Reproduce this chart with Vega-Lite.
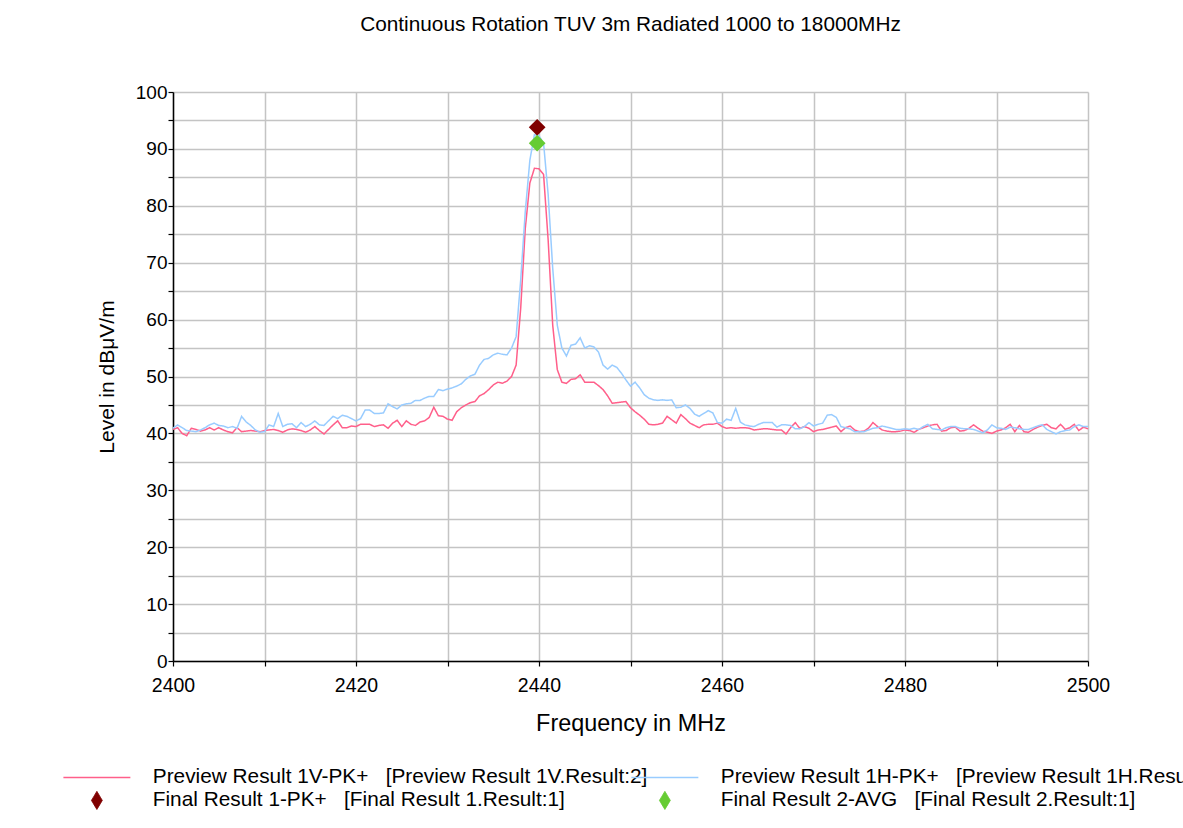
{
  "$schema": "https://vega.github.io/schema/vega-lite/v6.json",
  "width": 915,
  "height": 569,
  "autosize": {"type": "none"},
  "padding": {"left": 173, "top": 92, "right": 95, "bottom": 167},
  "background": "white",
  "title": {
    "text": "Continuous Rotation TUV 3m Radiated 1000 to 18000MHz",
    "font": "Liberation Sans",
    "fontSize": 20.8,
    "fontWeight": "normal",
    "color": "black",
    "anchor": "middle",
    "frame": "group",
    "offset": 47
  },
  "config": {
    "view": {"stroke": null},
    "font": "Liberation Sans",
    "axis": {
      "labelFont": "Liberation Sans",
      "titleFont": "Liberation Sans",
      "labelColor": "black",
      "titleColor": "black",
      "titleFontWeight": "normal",
      "domainColor": "black",
      "domainWidth": 1.5,
      "tickColor": "black",
      "tickWidth": 1.2,
      "gridColor": "#c4c4c4",
      "gridWidth": 1.5,
      "gridOpacity": 1
    },
    "legend": {
      "orient": "none",
      "title": null,
      "direction": "vertical",
      "padding": 0,
      "rowPadding": 1,
      "symbolSize": 324,
      "symbolStrokeWidth": 1.5,
      "labelOffset": 70,
      "labelLimit": 0,
      "labelFont": "Liberation Sans",
      "labelFontSize": 20.8,
      "labelColor": "black"
    }
  },
  "datasets": {
    "prev": [
      {"f":2400,"V":40.7,"H":40.9},{"f":2400.5,"V":41.0,"H":41.5},{"f":2401,"V":40.0,"H":41.0},{"f":2401.5,"V":39.6,"H":40.5},
      {"f":2402,"V":40.9,"H":40.4},{"f":2402.5,"V":40.7,"H":40.3},{"f":2403,"V":40.4,"H":40.6},{"f":2403.5,"V":40.6,"H":41.0},
      {"f":2404,"V":41.0,"H":41.5},{"f":2404.5,"V":40.6,"H":41.8},{"f":2405,"V":41.0,"H":41.4},{"f":2405.5,"V":40.6,"H":41.3},
      {"f":2406,"V":40.3,"H":41.0},{"f":2406.5,"V":40.1,"H":41.2},{"f":2407,"V":41.0,"H":40.9},{"f":2407.5,"V":40.3,"H":43.0},
      {"f":2408,"V":40.4,"H":42.0},{"f":2408.5,"V":40.5,"H":41.4},{"f":2409,"V":40.4,"H":40.6},{"f":2409.5,"V":40.3,"H":40.2},
      {"f":2410,"V":40.5,"H":40.3},{"f":2410.5,"V":40.6,"H":41.5},{"f":2411,"V":40.7,"H":41.2},{"f":2411.5,"V":40.5,"H":43.5},
      {"f":2412,"V":40.2,"H":41.2},{"f":2412.5,"V":40.6,"H":41.6},{"f":2413,"V":40.8,"H":41.7},{"f":2413.5,"V":40.7,"H":41.0},
      {"f":2414,"V":40.5,"H":41.9},{"f":2414.5,"V":40.2,"H":41.2},{"f":2415,"V":40.6,"H":41.6},{"f":2415.5,"V":41.2,"H":42.2},
      {"f":2416,"V":40.5,"H":41.5},{"f":2416.5,"V":39.9,"H":41.4},{"f":2417,"V":40.7,"H":42.2},{"f":2417.5,"V":41.5,"H":43.0},
      {"f":2418,"V":42.2,"H":42.6},{"f":2418.5,"V":41.0,"H":43.2},{"f":2419,"V":41.0,"H":43.0},{"f":2419.5,"V":41.3,"H":42.6},
      {"f":2420,"V":41.2,"H":42.2},{"f":2420.5,"V":41.6,"H":42.6},{"f":2421,"V":41.6,"H":44.1},{"f":2421.5,"V":41.6,"H":44.1},
      {"f":2422,"V":41.2,"H":43.5},{"f":2422.5,"V":41.4,"H":43.5},{"f":2423,"V":41.5,"H":43.6},{"f":2423.5,"V":40.9,"H":45.2},
      {"f":2424,"V":41.8,"H":44.7},{"f":2424.5,"V":42.3,"H":44.3},{"f":2425,"V":41.2,"H":45.0},{"f":2425.5,"V":42.2,"H":45.2},
      {"f":2426,"V":41.6,"H":45.3},{"f":2426.5,"V":41.4,"H":45.8},{"f":2427,"V":42.0,"H":45.8},{"f":2427.5,"V":42.2,"H":46.2},
      {"f":2428,"V":42.8,"H":46.5},{"f":2428.5,"V":44.6,"H":46.5},{"f":2429,"V":43.1,"H":47.7},{"f":2429.5,"V":43.0,"H":47.5},
      {"f":2430,"V":42.5,"H":47.8},{"f":2430.5,"V":42.3,"H":48.0},{"f":2431,"V":43.8,"H":48.3},{"f":2431.5,"V":44.5,"H":48.7},
      {"f":2432,"V":45.0,"H":49.5},{"f":2432.5,"V":45.4,"H":50.1},{"f":2433,"V":45.6,"H":50.4},{"f":2433.5,"V":46.6,"H":52.0},
      {"f":2434,"V":47.0,"H":53.0},{"f":2434.5,"V":47.7,"H":53.2},{"f":2435,"V":48.5,"H":53.8},{"f":2435.5,"V":49.0,"H":54.1},
      {"f":2436,"V":48.8,"H":53.9},{"f":2436.5,"V":49.2,"H":53.8},{"f":2437,"V":50.0,"H":55.0},{"f":2437.5,"V":52.0,"H":57.0},
      {"f":2438,"V":62.0,"H":67.0},{"f":2438.5,"V":76.0,"H":79.0},{"f":2439,"V":84.0,"H":88.0},{"f":2439.5,"V":86.6,"H":92.5},
      {"f":2440,"V":86.5,"H":92.3},{"f":2440.5,"V":85.5,"H":91.0},{"f":2441,"V":74.0,"H":82.0},{"f":2441.5,"V":59.0,"H":69.0},
      {"f":2442,"V":51.2,"H":59.0},{"f":2442.5,"V":49.0,"H":55.0},{"f":2443,"V":48.8,"H":53.6},{"f":2443.5,"V":49.5,"H":55.5},
      {"f":2444,"V":49.6,"H":55.7},{"f":2444.5,"V":50.3,"H":56.8},{"f":2445,"V":49.0,"H":55.0},{"f":2445.5,"V":49.0,"H":55.4},
      {"f":2446,"V":49.0,"H":55.2},{"f":2446.5,"V":48.4,"H":54.3},{"f":2447,"V":47.7,"H":52.0},{"f":2447.5,"V":46.6,"H":51.3},
      {"f":2448,"V":45.3,"H":52.0},{"f":2448.5,"V":45.4,"H":51.6},{"f":2449,"V":45.5,"H":50.6},{"f":2449.5,"V":45.6,"H":49.4},
      {"f":2450,"V":44.5,"H":48.3},{"f":2450.5,"V":43.8,"H":49.0},{"f":2451,"V":43.2,"H":48.0},{"f":2451.5,"V":42.5,"H":46.8},
      {"f":2452,"V":41.6,"H":46.2},{"f":2452.5,"V":41.5,"H":45.9},{"f":2453,"V":41.6,"H":45.8},{"f":2453.5,"V":41.8,"H":45.9},
      {"f":2454,"V":43.0,"H":45.8},{"f":2454.5,"V":42.4,"H":45.9},{"f":2455,"V":41.8,"H":44.5},{"f":2455.5,"V":43.3,"H":44.6},
      {"f":2456,"V":42.6,"H":45.0},{"f":2456.5,"V":41.8,"H":44.4},{"f":2457,"V":41.4,"H":43.4},{"f":2457.5,"V":41.0,"H":43.0},
      {"f":2458,"V":41.5,"H":43.5},{"f":2458.5,"V":41.6,"H":44.0},{"f":2459,"V":41.6,"H":43.6},{"f":2459.5,"V":41.8,"H":41.9},
      {"f":2460,"V":41.2,"H":41.8},{"f":2460.5,"V":40.9,"H":42.5},{"f":2461,"V":41.0,"H":42.3},{"f":2461.5,"V":40.9,"H":44.4},
      {"f":2462,"V":41.0,"H":42.0},{"f":2462.5,"V":41.0,"H":41.5},{"f":2463,"V":40.9,"H":41.3},{"f":2463.5,"V":40.6,"H":41.2},
      {"f":2464,"V":40.7,"H":41.6},{"f":2464.5,"V":40.8,"H":41.9},{"f":2465,"V":40.8,"H":41.9},{"f":2465.5,"V":40.7,"H":41.9},
      {"f":2466,"V":40.6,"H":41.1},{"f":2466.5,"V":40.6,"H":41.5},{"f":2467,"V":39.9,"H":41.5},{"f":2467.5,"V":41.0,"H":41.4},
      {"f":2468,"V":41.9,"H":40.8},{"f":2468.5,"V":40.9,"H":40.8},{"f":2469,"V":41.2,"H":41.2},{"f":2469.5,"V":40.9,"H":41.9},
      {"f":2470,"V":40.3,"H":41.3},{"f":2470.5,"V":40.6,"H":41.6},{"f":2471,"V":40.7,"H":41.8},{"f":2471.5,"V":40.9,"H":43.2},
      {"f":2472,"V":41.1,"H":43.3},{"f":2472.5,"V":41.3,"H":42.8},{"f":2473,"V":40.3,"H":41.2},{"f":2473.5,"V":41.0,"H":41.0},
      {"f":2474,"V":41.3,"H":40.8},{"f":2474.5,"V":40.6,"H":40.3},{"f":2475,"V":40.3,"H":40.3},{"f":2475.5,"V":40.4,"H":40.3},
      {"f":2476,"V":40.9,"H":40.6},{"f":2476.5,"V":41.9,"H":40.9},{"f":2477,"V":41.2,"H":41.0},{"f":2477.5,"V":40.6,"H":41.3},
      {"f":2478,"V":40.4,"H":41.1},{"f":2478.5,"V":40.3,"H":40.9},{"f":2479,"V":40.3,"H":40.7},{"f":2479.5,"V":40.4,"H":40.7},
      {"f":2480,"V":40.6,"H":40.8},{"f":2480.5,"V":40.5,"H":40.7},{"f":2481,"V":40.2,"H":40.9},{"f":2481.5,"V":40.7,"H":40.7},
      {"f":2482,"V":41.0,"H":41.2},{"f":2482.5,"V":41.3,"H":41.6},{"f":2483,"V":41.5,"H":40.8},{"f":2483.5,"V":41.6,"H":40.7},
      {"f":2484,"V":40.4,"H":40.6},{"f":2484.5,"V":40.5,"H":41.0},{"f":2485,"V":41.0,"H":41.2},{"f":2485.5,"V":41.1,"H":41.2},
      {"f":2486,"V":40.4,"H":40.9},{"f":2486.5,"V":40.5,"H":40.8},{"f":2487,"V":40.9,"H":40.8},{"f":2487.5,"V":41.5,"H":40.7},
      {"f":2488,"V":40.9,"H":40.4},{"f":2488.5,"V":40.4,"H":40.1},{"f":2489,"V":40.2,"H":40.6},{"f":2489.5,"V":40.0,"H":41.5},
      {"f":2490,"V":40.4,"H":41.0},{"f":2490.5,"V":40.6,"H":40.9},{"f":2491,"V":41.0,"H":40.7},{"f":2491.5,"V":41.6,"H":41.1},
      {"f":2492,"V":40.3,"H":41.0},{"f":2492.5,"V":41.4,"H":40.8},{"f":2493,"V":40.3,"H":40.7},{"f":2493.5,"V":40.2,"H":40.7},
      {"f":2494,"V":40.7,"H":41.0},{"f":2494.5,"V":41.1,"H":41.3},{"f":2495,"V":41.4,"H":41.5},{"f":2495.5,"V":41.6,"H":40.7},
      {"f":2496,"V":41.0,"H":40.3},{"f":2496.5,"V":40.8,"H":39.9},{"f":2497,"V":41.6,"H":40.3},{"f":2497.5,"V":40.7,"H":40.5},
      {"f":2498,"V":41.0,"H":40.6},{"f":2498.5,"V":41.6,"H":41.2},{"f":2499,"V":40.5,"H":41.5},{"f":2499.5,"V":41.1,"H":41.2},
      {"f":2500,"V":40.8,"H":41.2}
    ],
    "final": [
      {"f":2439.8,"level":93.8,"k":"F1"},
      {"f":2439.8,"level":91.0,"k":"F2"}
    ]
  },
  "encoding": {
    "x": {
      "field": "f", "type": "quantitative",
      "scale": {"domain": [2400, 2500], "nice": false, "zero": false},
      "axis": {
        "title": "Frequency in MHz",
        "titleFontSize": 23.4,
        "titlePadding": 18,
        "values": [2400,2410,2420,2430,2440,2450,2460,2470,2480,2490,2500],
        "labelExpr": "datum.value % 20 === 0 ? datum.label : ''",
        "format": "d",
        "labelFontSize": 19.5,
        "labelPadding": 10,
        "tickSize": 5,
        "grid": true,
        "labelFlush": false,
        "labelOverlap": false
      }
    },
    "y": {
      "field": "level", "type": "quantitative",
      "scale": {"domain": [0, 100], "nice": false},
      "axis": {
        "title": "Level in dBμV/m",
        "titleFontSize": 21,
        "titlePadding": 18,
        "values": [0,5,10,15,20,25,30,35,40,45,50,55,60,65,70,75,80,85,90,95,100],
        "labelExpr": "datum.value % 10 === 0 ? datum.label : ''",
        "labelFontSize": 19,
        "labelPadding": 1,
        "tickSize": 5,
        "grid": true,
        "labelFlush": false,
        "labelOverlap": false
      }
    },
    "color": {
      "field": "k", "type": "nominal",
      "scale": {"domain": ["V", "H", "F1", "F2"], "range": ["#ff5f8a", "#99ccff", "#800000", "#66cc33"]},
      "legend": {
        "values": ["V", "F1"],
        "legendX": -111,
        "legendY": 675,
        "labelExpr": "datum.value === 'V' ? 'Preview Result 1V-PK+\u00a0\u00a0\u00a0[Preview Result 1V.Result:2]' : 'Final Result 1-PK+\u00a0\u00a0\u00a0[Final Result 1.Result:1]'",
        "encode": {
          "symbols": {
            "update": {
              "shape": {"signal": "datum.value === 'V' ? 'M-1,0H6.44' : 'M-1,0M2.72,-1L3.32,0L2.72,1L2.12,0Z'"},
              "size": {"value": 324},
              "fill": {"signal": "datum.value === 'F1' ? '#800000' : 'transparent'"},
              "stroke": {"signal": "datum.value === 'V' ? '#ff5f8a' : '#800000'"},
              "strokeWidth": {"signal": "datum.value === 'V' ? 1.5 : 1"},
              "strokeDash": {"value": [1, 0]},
              "opacity": {"value": 1}
            }
          }
        }
      }
    }
  },
  "layer": [
    {
      "data": {"name": "prev"},
      "transform": [{"fold": ["V", "H"], "as": ["k", "level"]}],
      "mark": {"type": "line", "strokeWidth": 1.5, "interpolate": "linear"},
      "encoding": {
        "strokeDash": {
          "field": "k", "type": "nominal",
          "scale": {"domain": ["H", "F2", "V", "F1"], "range": [[1, 0], [1, 0], [1, 0], [1, 0]]},
          "legend": {
            "values": ["H", "F2"],
            "legendX": 457,
            "legendY": 675,
            "labelExpr": "datum.value === 'H' ? 'Preview Result 1H-PK+\u00a0\u00a0\u00a0[Preview Result 1H.Result:2]' : 'Final Result 2-AVG\u00a0\u00a0\u00a0[Final Result 2.Result:1]'",
            "encode": {
              "symbols": {
                "update": {
                  "shape": {"signal": "datum.value === 'H' ? 'M-1,0H6.44' : 'M-1,0M2.72,-1L3.32,0L2.72,1L2.12,0Z'"},
                  "size": {"value": 324},
                  "fill": {"signal": "datum.value === 'F2' ? '#66cc33' : 'transparent'"},
                  "stroke": {"signal": "datum.value === 'H' ? '#99ccff' : '#66cc33'"},
                  "strokeWidth": {"signal": "datum.value === 'H' ? 1.5 : 1"},
                  "strokeDash": {"value": [1, 0]},
                  "opacity": {"value": 1}
                }
              }
            }
          }
        }
      }
    },
    {
      "data": {"name": "final"},
      "mark": {"type": "point", "shape": "diamond", "filled": true, "size": 280, "opacity": 1}
    }
  ]
}
